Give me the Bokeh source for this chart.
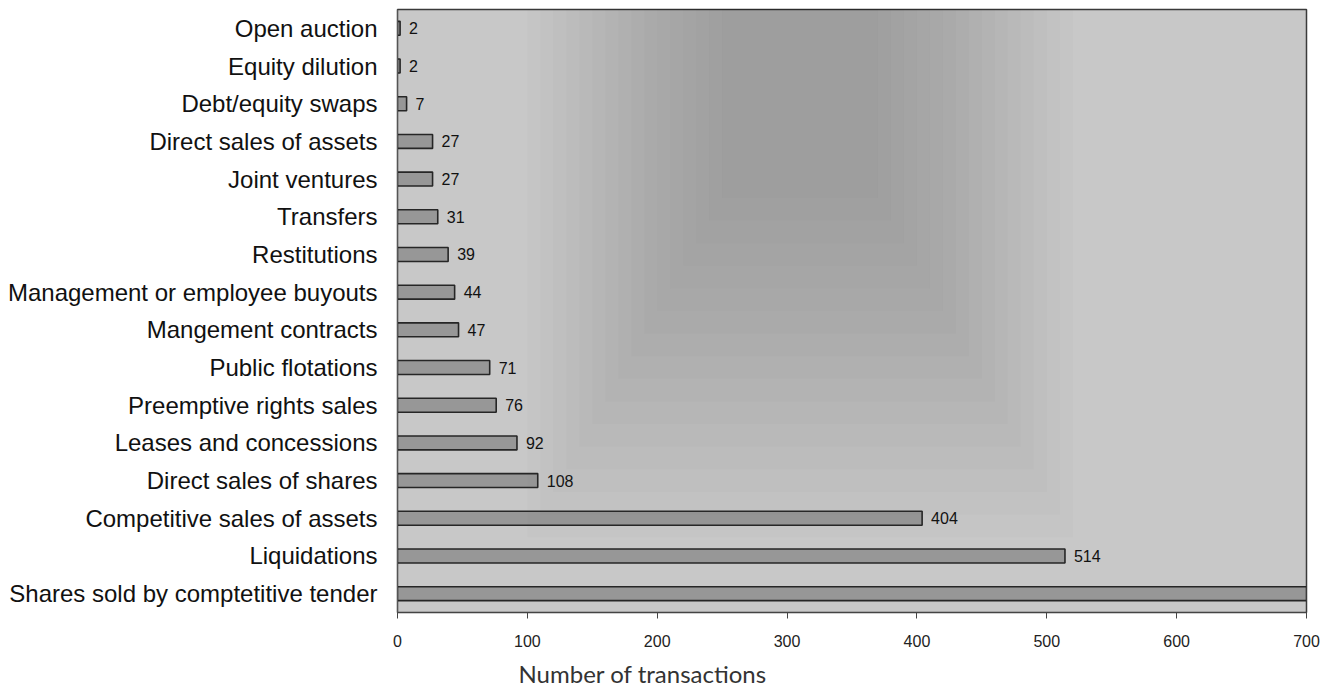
from bokeh.plotting import figure
from bokeh.models import ColumnDataSource, FactorRange, Range1d, Title, BoxAnnotation, FixedTicker
from bokeh.core.properties import value
from bokeh.embed import file_html
from bokeh.resources import INLINE

categories = [
    "Open auction",
    "Equity dilution",
    "Debt/equity swaps",
    "Direct sales of assets",
    "Joint ventures",
    "Transfers",
    "Restitutions",
    "Management or employee buyouts",
    "Mangement contracts",
    "Public flotations",
    "Preemptive rights sales",
    "Leases and concessions",
    "Direct sales of shares",
    "Competitive sales of assets",
    "Liquidations",
    "Shares sold by comptetitive tender",
]
counts = [2, 2, 7, 27, 27, 31, 39, 44, 47, 71, 76, 92, 108, 404, 514, 760]
x_ticks = [0, 100, 200, 300, 400, 500, 600, 700]
x_max = 700
x_title = "Number of transactions"

src = ColumnDataSource(dict(cat=categories, count=counts))
# value labels only for bars that end inside the visible axis range
vis = [(c, n) for c, n in zip(categories, counts) if n < x_max]
lab_src = ColumnDataSource(dict(cat=[c for c, _ in vis], count=[n for _, n in vis],
                                label=[str(n) for _, n in vis]))

p = figure(
    width=1320, height=696,
    y_range=FactorRange(factors=list(reversed(categories))),
    x_range=Range1d(0, x_max),
    output_backend="svg", toolbar_location=None,
    min_border_left=397, min_border_right=14, min_border_top=9, min_border_bottom=84,
)
p.background_fill_color = "#c8c8c8"
p.border_fill_color = "white"
p.outline_line_color = "#3a3a3a"
p.outline_line_width = 1.5
p.xgrid.visible = False
p.ygrid.visible = False

# soft darker scanned patch in the upper middle of the plot area
for i in range(16):
    half = 210 - 10 * i
    p.add_layout(BoxAnnotation(left=310 - half, right=310 + half, bottom=2.0 + 0.6 * i,
                               fill_color="#404040", fill_alpha=0.022, line_alpha=0))

p.hbar(y="cat", left=0, right="count", height=0.37, source=src,
       fill_color="#979797", line_color="#262626", line_width=1.6)
p.text(x="count", y="cat", text="label", source=lab_src, x_offset=9,
       text_align="left", text_baseline="middle",
       text_font=value("Liberation Sans"), text_font_size="16px", text_color="#111111")

xa = p.xaxis[0]
xa.ticker = FixedTicker(ticks=x_ticks)
xa.axis_line_color = "#444444"
xa.major_tick_in = 0
xa.major_tick_out = 6
xa.minor_tick_line_color = None
xa.major_tick_line_color = "#444444"
xa.major_label_standoff = 16
xa.major_label_text_font = "Liberation Sans"
xa.major_label_text_font_size = "16px"
xa.major_label_text_color = "#222222"

ya = p.yaxis[0]
ya.axis_line_color = "#555555"
ya.major_tick_line_color = None
ya.minor_tick_line_color = None
ya.major_tick_out = 0
ya.major_tick_in = 0
ya.major_label_standoff = 20
ya.major_label_text_font = "Liberation Sans"
ya.major_label_text_font_size = "24px"
ya.major_label_text_color = "#111111"

# axis title, left of centre below the tick labels as in the original
p.add_layout(Title(text=x_title, align="left", offset=121, standoff=14,
                   text_font="Lato", text_font_size="24px", text_font_style="normal",
                   text_color="#333333"), "below")

open("out.html", "w").write(file_html(p, INLINE))
